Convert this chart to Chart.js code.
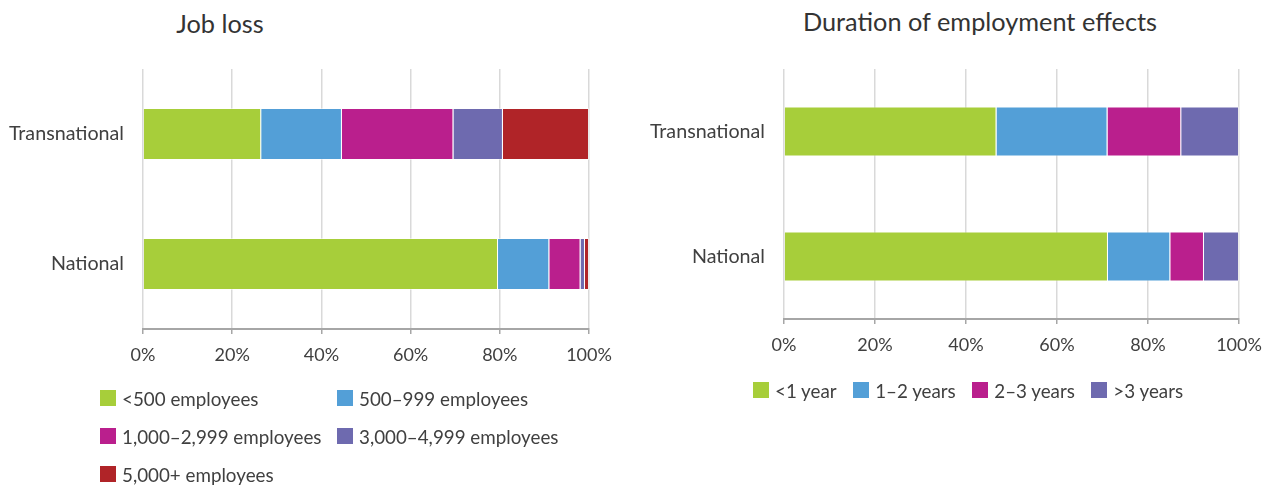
<!DOCTYPE html>
<html>
<head>
<meta charset="utf-8">
<script src="https://cdn.jsdelivr.net/npm/chart.js@4"></script>
<style>
  body{margin:0;width:1271px;height:485px;background:#fff;position:relative;overflow:hidden;font-family:Lato,"Noto Sans",sans-serif;color:#404040}
  canvas{position:absolute;top:0}
  #c1{left:0}
  #c2{left:640px}
  .title{position:absolute;font-size:25.3px;color:#333;white-space:nowrap;transform:translate(-50%,-50%);line-height:1}
  .legend{position:absolute;font-size:18.8px;color:#404040}
  #leg1{left:100px;top:379px;display:grid;grid-template-columns:237px 237px}
  #leg2{left:753px;top:371px;display:flex;gap:16.5px}
  .item{display:flex;align-items:center;height:38px;white-space:nowrap}
  .box{width:16px;height:16px;margin-right:6px;flex:none}
</style>
</head>
<body>
<div class="title" style="left:220px;top:24px">Job loss</div>
<div class="title" style="left:980px;top:22px">Duration of employment effects</div>
<canvas id="c1" width="620" height="485"></canvas>
<canvas id="c2" width="631" height="485"></canvas>
<div class="legend" id="leg1"></div>
<div class="legend" id="leg2"></div>
<script>
// ---------- data ----------
const categories = ['Transnational', 'National'];
const xTickLabels = ['0%', '20%', '40%', '60%', '80%', '100%'];

// Job loss (share, %)
const jobLossNames = ['<500 employees', '500\u2013999 employees', '1,000\u20132,999 employees', '3,000\u20134,999 employees', '5,000+ employees'];
const under500 = [26.5, 79.6];
const from500to999 = [18.1, 11.5];
const from1000to2999 = [25.0, 7.0];
const from3000to4999 = [11.1, 1.0];
const over5000 = [19.3, 0.9];

// Duration of employment effects (share, %)
const durationNames = ['<1 year', '1\u20132 years', '2\u20133 years', '>3 years'];
const underOneYear = [46.7, 71.2];
const oneToTwoYears = [24.4, 13.7];
const twoToThreeYears = [16.2, 7.4];
const overThreeYears = [12.7, 7.7];

// ---------- styles ----------
const palette = ['#A7CE3A', '#539FD7', '#BA1F8D', '#6E6AAF', '#B02428'];
const textColor = '#404040';
const fontFamily = 'Lato, "Noto Sans", sans-serif';

function makeDatasets(names, series) {
  return series.map((vals, i) => ({
    label: names[i],
    data: vals,
    backgroundColor: palette[i],
    borderColor: 'rgba(255,255,255,0.45)',
    borderWidth: 1,
    borderSkipped: 'start',
    barPercentage: 0.5,
    categoryPercentage: 0.8
  }));
}

function makeOptions(pad, yWidth) {
  return {
    indexAxis: 'y',
    responsive: false,
    animation: false,
    layout: { padding: pad },
    plugins: { legend: { display: false }, tooltip: { enabled: false }, title: { display: false } },
    scales: {
      x: {
        stacked: true, min: 0, max: 100,
        ticks: { stepSize: 20, callback: (v, i) => xTickLabels[i], color: textColor, font: { family: fontFamily, size: 18 }, padding: 10, maxRotation: 0 },
        grid: { color: '#d9d9d9', lineWidth: 1.5, tickColor: '#a6a6a6', tickLength: 5, drawTicks: true },
        border: { color: '#a6a6a6', width: 2 },
        afterFit(s) { s.height = 40; s.paddingLeft = 0; s.paddingRight = 0; }
      },
      y: {
        stacked: true,
        ticks: { color: textColor, font: { family: fontFamily, size: 19.7 }, padding: 11 },
        grid: { display: false },
        border: { display: false },
        afterFit(s) { s.width = yWidth; }
      }
    }
  };
}

const chart1 = new Chart(document.getElementById('c1'), {
  type: 'bar',
  data: { labels: categories, datasets: makeDatasets(jobLossNames, [under500, from500to999, from1000to2999, from3000to4999, over5000]) },
  options: makeOptions({ top: 69, right: 31, bottom: 116, left: 0 }, 143)
});

const chart2 = new Chart(document.getElementById('c2'), {
  type: 'bar',
  data: { labels: categories, datasets: makeDatasets(durationNames, [underOneYear, oneToTwoYears, twoToThreeYears, overThreeYears]) },
  options: makeOptions({ top: 69, right: 32, bottom: 126, left: 0 }, 144)
});

function buildLegend(chart, el) {
  chart.data.datasets.forEach(ds => {
    const it = document.createElement('div');
    it.className = 'item';
    const b = document.createElement('span');
    b.className = 'box';
    b.style.background = ds.backgroundColor;
    const t = document.createElement('span');
    t.textContent = ds.label;
    it.appendChild(b); it.appendChild(t);
    el.appendChild(it);
  });
}
buildLegend(chart1, document.getElementById('leg1'));
buildLegend(chart2, document.getElementById('leg2'));
</script>
</body>
</html>
